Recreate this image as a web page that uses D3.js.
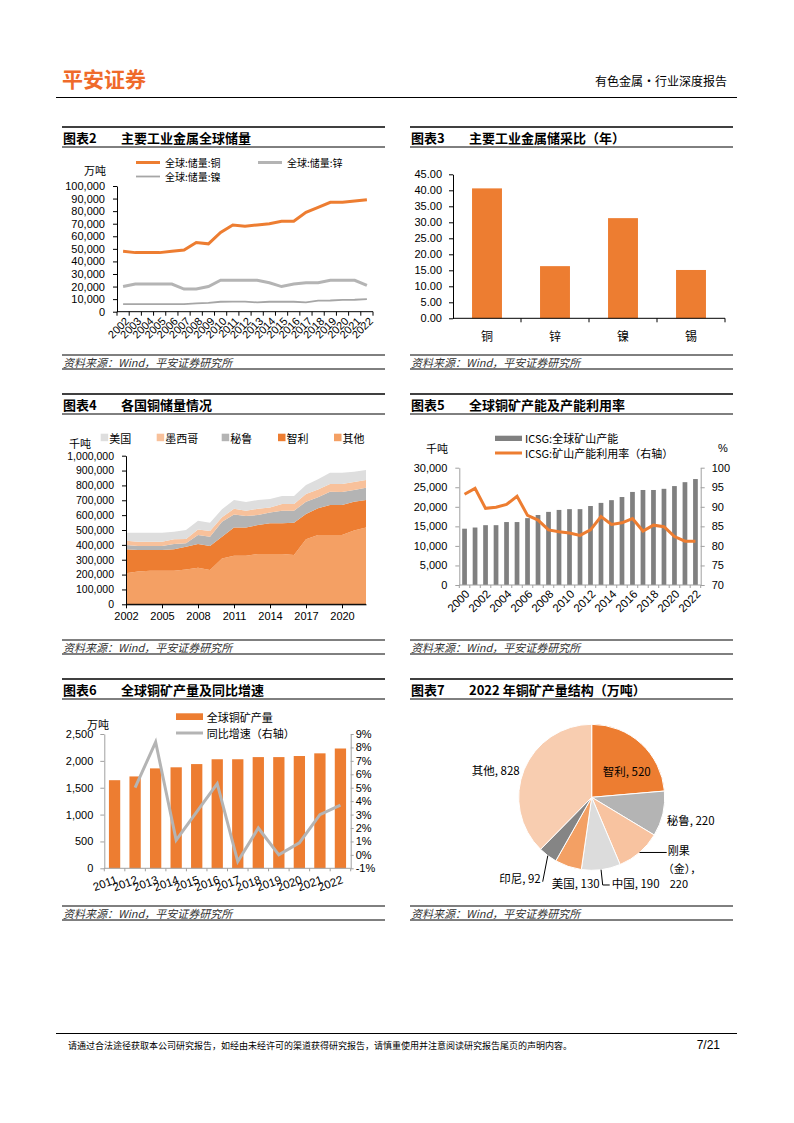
<!DOCTYPE html>
<html><head><meta charset="utf-8">
<script src="https://cdn.jsdelivr.net/npm/d3@7"></script>
<style>
body{margin:0;background:#fff;}
</style></head><body>
<svg id="page" width="794" height="1123" xmlns="http://www.w3.org/2000/svg"></svg>
<script>
// ---------------- DATA ----------------
// Chart 2: global reserves (万吨)
const years2 = ["2002","2003","2004","2005","2006","2007","2008","2009","2010","2011","2012","2013","2014","2015","2016","2017","2018","2019","2020","2021","2022"];
const copperRes = [48000,47000,47000,47000,48000,49000,55000,54000,63000,69000,68000,69000,70000,72000,72000,79000,83000,87000,87000,88000,89000];
const zincRes   = [20000,22000,22000,22000,22000,18000,18000,20000,25000,25000,25000,25000,23000,20000,22000,23000,23000,25000,25000,25000,21000];
const nickelRes = [6100,6100,6100,6100,6100,6100,6700,7100,7900,8000,8000,7400,7900,7900,7900,7400,8800,8900,9400,9500,10000];
const ticks2 = [0,10000,20000,30000,40000,50000,60000,70000,80000,90000,100000];
const legend2 = ["全球:储量:铜","全球:储量:锌","全球:储量:镍"];

// Chart 3: reserve/production ratio (年)
const metals3 = ["铜","锌","镍","锡"];
const ratio3 = [40.6,16.3,31.3,15.1];
const ticks3 = [0,5,10,15,20,25,30,35,40,45];

// Chart 4: copper reserves by country (千吨)
const years4 = ["2002","2003","2004","2005","2006","2007","2008","2009","2010","2011","2012","2013","2014","2015","2016","2017","2018","2019","2020","2021","2022"];
const other4  = [209000,220000,226000,226000,226000,235000,246000,231000,309000,327000,327000,339000,339000,339000,332000,437000,466000,466000,466000,496000,516000];
const chile4  = [161000,145000,139000,139000,144000,153000,160000,161000,146000,189000,189000,195000,206000,206000,217000,171000,180000,202000,202000,194000,186000];
const peru4   = [29000,27000,27000,27000,36000,22000,60000,63000,101000,89000,78000,67000,72000,85000,81000,82000,74000,90000,88000,79000,83000];
const mexico4 = [29000,29000,29000,29000,31000,29000,38000,38000,29000,38000,36000,42000,35000,45000,45000,52000,53000,51000,53000,54000,51000];
const us4     = [54000,61000,61000,61000,52000,61000,59000,56000,54000,59000,58000,59000,56000,54000,54000,61000,68000,77000,77000,69000,68000];
const keys4 = ["其他","智利","秘鲁","墨西哥","美国"];
const legend4 = ["美国","墨西哥","秘鲁","智利","其他"];
const ticks4 = [0,100000,200000,300000,400000,500000,600000,700000,800000,900000,1000000];
const xticks4 = ["2002","2005","2008","2011","2014","2017","2020"];

// Chart 5: ICSG capacity (千吨) and utilisation (%)
const years5 = ["2000","2001","2002","2003","2004","2005","2006","2007","2008","2009","2010","2011","2012","2013","2014","2015","2016","2017","2018","2019","2020","2021","2022"];
const capacity5 = [14400,14700,15300,15300,16100,16100,17100,17900,18700,19200,19400,19400,20200,21000,21700,22500,23800,24300,24300,24600,25300,26300,27100];
const util5 = [93.2,94.7,89.6,89.9,90.6,92.7,87.8,86.6,84.1,83.6,83.3,82.7,84.1,87.5,85.5,85.9,87.0,83.8,85.3,84.9,82.4,81.2,81.2];
const ticks5L = [0,5000,10000,15000,20000,25000,30000];
const ticks5R = [70,75,80,85,90,95,100];
const xticks5 = ["2000","2002","2004","2006","2008","2010","2012","2014","2016","2018","2020","2022"];
const legend5 = ["ICSG:全球矿山产能","ICSG:矿山产能利用率（右轴）"];

// Chart 6: global copper mine output (万吨) and yoy (%)
const years6 = ["2011","2012","2013","2014","2015","2016","2017","2018","2019","2020","2021","2022"];
const prod6 = [1640,1710,1860,1880,1940,2030,2030,2070,2070,2090,2140,2230];
const yoy6 = [null,5.0,8.4,1.1,3.2,5.3,-0.5,2.0,0.0,0.9,3.0,3.7];
const ticks6L = [0,500,1000,1500,2000,2500];
const ticks6R = [-1,0,1,2,3,4,5,6,7,8,9];
const legend6 = ["全球铜矿产量","同比增速（右轴）"];

// Chart 7: 2022 copper mine output structure (万吨)
const pieNames = ["智利","秘鲁","刚果（金）","中国","美国","印尼","其他"];
const pieValues = [520,220,220,190,130,92,828];

// ---------------- STYLE ----------------
const FONT = '"Liberation Sans","Noto Sans CJK SC",sans-serif';
const CJK = '"Noto Sans CJK SC","Liberation Sans",sans-serif';
const ORANGE = "#ED7D31";
const svg = d3.select("#page");

function axisStyle(g, col, fs){
  g.attr("font-family", FONT).attr("font-size", fs);
  g.select(".domain").attr("stroke", col);
  g.selectAll(".tick line").attr("stroke", col);
  g.selectAll(".tick text").attr("fill", "#000");
}
function txt(x, y, s, opt={}){
  return svg.append("text").attr("x", x).attr("y", y)
    .attr("font-family", opt.family || FONT)
    .attr("font-size", opt.size || 11)
    .attr("font-weight", opt.weight || "normal")
    .attr("font-style", opt.style || "normal")
    .attr("fill", opt.fill || "#000")
    .attr("text-anchor", opt.anchor || "start")
    .attr("dominant-baseline", "central")
    .text(s);
}
function hline(x0, x1, y, w=1, col="#000"){
  svg.append("line").attr("x1", x0).attr("x2", x1).attr("y1", y).attr("y2", y)
    .attr("stroke", col).attr("stroke-width", w);
}
function titleBlock(x0, x1, yT, yB, num, title){
  hline(x0, x1, yT, 1.3);
  hline(x0, x1, yB, 1);
  const ym = (yT + yB) / 2 + 0.5;
  txt(x0 + 1, ym, "图表" + num, {family: CJK, size: 13, weight: "bold"});
  txt(x0 + 59, ym, title, {family: CJK, size: 13, weight: "bold"});
}
function sourceBlock(x0, x1, yT, yB){
  hline(x0, x1, yT, 1);
  hline(x0, x1, yB, 1);
  txt(x0 + 1, (yT + yB) / 2, "资料来源：Wind，平安证券研究所", {size: 11, style: "italic", fill: "#333", family: CJK});
}

// ---------------- HEADER / FOOTER ----------------
txt(62, 78, "平安证券", {family: CJK, size: 21, weight: "bold", fill: "#EF6A2A"});
txt(727, 80, "有色金属·行业深度报告", {family: CJK, size: 12, anchor: "end"});
hline(56, 737, 97.5, 1);
hline(56, 737, 1033.5, 1);
txt(68, 1045, "请通过合法途径获取本公司研究报告，如经由未经许可的渠道获得研究报告，请慎重使用并注意阅读研究报告尾页的声明内容。", {family: CJK, size: 9});
txt(720, 1045, "7/21", {size: 12, anchor: "end"});

// Title & source blocks
const C1 = [62, 385], C2 = [410, 733];
titleBlock(C1[0], C1[1], 127, 147, "2", "主要工业金属全球储量");
titleBlock(C2[0], C2[1], 127, 147, "3", "主要工业金属储采比（年）");
sourceBlock(C1[0], C1[1], 355, 369);
sourceBlock(C2[0], C2[1], 355, 369);
titleBlock(C1[0], C1[1], 394, 414, "4", "各国铜储量情况");
titleBlock(C2[0], C2[1], 394, 414, "5", "全球铜矿产能及产能利用率");
sourceBlock(C1[0], C1[1], 640, 654);
sourceBlock(C2[0], C2[1], 640, 654);
titleBlock(C1[0], C1[1], 679, 699, "6", "全球铜矿产量及同比增速");
titleBlock(C2[0], C2[1], 679, 699, "7", "2022 年铜矿产量结构（万吨）");
sourceBlock(C1[0], C1[1], 906, 920);
sourceBlock(C2[0], C2[1], 906, 920);

// ---------------- CHART 2 ----------------
(function(){
  const x = d3.scaleBand().domain(years2).range([117, 373]);
  const y = d3.scaleLinear().domain([0, 100000]).range([311.7, 186]);
  svg.append("g").attr("transform", "translate(117,0)")
    .call(d3.axisLeft(y).tickValues(ticks2).tickFormat(d3.format(",")).tickSize(4).tickPadding(8).tickSizeOuter(0))
    .call(axisStyle, "#000", 11);
  const bx = svg.append("g").attr("transform", "translate(0,311.7)");
  bx.append("line").attr("x1", 117).attr("x2", 373).attr("stroke", "#000");
  bx.selectAll(".tk").data(years2.map(d => x(d)).concat([373])).join("line")
    .attr("x1", d => d).attr("x2", d => d).attr("y1", 0).attr("y2", 4).attr("stroke", "#000");
  years2.forEach(d => {
    svg.append("text").attr("transform", `translate(${x(d) + x.bandwidth() / 2 + 4},${319}) rotate(-45)`)
      .attr("text-anchor", "end").attr("dominant-baseline", "central")
      .attr("font-family", FONT).attr("font-size", 11).text(d);
  });
  const line = arr => d3.line().x((d, i) => x(years2[i]) + x.bandwidth() / 2).y(d => y(d))(arr);
  svg.append("path").attr("d", line(nickelRes)).attr("fill", "none").attr("stroke", "#A6A6A6").attr("stroke-width", 1.8);
  svg.append("path").attr("d", line(zincRes)).attr("fill", "none").attr("stroke", "#B4B4B4").attr("stroke-width", 3);
  svg.append("path").attr("d", line(copperRes)).attr("fill", "none").attr("stroke", ORANGE).attr("stroke-width", 3);
  // legend
  const lg = [[136, 162.5, ORANGE, 3], [258, 162.5, "#B4B4B4", 3], [136, 176.5, "#A6A6A6", 1.8]];
  lg.forEach((l, i) => {
    svg.append("line").attr("x1", l[0]).attr("x2", l[0] + 24).attr("y1", l[1]).attr("y2", l[1]).attr("stroke", l[2]).attr("stroke-width", l[3]);
    txt(l[0] + 29, l[1], legend2[i], {family: CJK, size: 10});
  });
  txt(95, 170, "万吨", {family: CJK, size: 11, anchor: "middle"});
})();

// ---------------- CHART 3 ----------------
(function(){
  const x = d3.scaleBand().domain(metals3).range([453, 725]).paddingInner(0.56).paddingOuter(0.28);
  const y = d3.scaleLinear().domain([0, 45]).range([318.3, 174.3]);
  svg.append("g").attr("transform", "translate(453,0)")
    .call(d3.axisLeft(y).tickValues(ticks3).tickFormat(d3.format(".2f")).tickSize(4).tickPadding(7).tickSizeOuter(0))
    .call(axisStyle, "#000", 11);
  svg.selectAll(".bar3").data(metals3).join("rect")
    .attr("x", d => x(d)).attr("width", x.bandwidth())
    .attr("y", (d, i) => y(ratio3[i])).attr("height", (d, i) => y(0) - y(ratio3[i]))
    .attr("fill", ORANGE);
  const step = x.step();
  const bx = svg.append("g").attr("transform", "translate(0,318.3)");
  bx.append("line").attr("x1", 453).attr("x2", 725).attr("stroke", "#000");
  bx.selectAll(".tk").data(metals3.map((d, i) => 453 + step * (i + 1))).join("line")
    .attr("x1", d => d).attr("x2", d => d).attr("y1", 0).attr("y2", 4).attr("stroke", "#000");
  metals3.forEach(d => txt(x(d) + x.bandwidth() / 2, 335, d, {family: CJK, size: 12, anchor: "middle"}));
})();

// ---------------- CHART 4 ----------------
(function(){
  const x = d3.scalePoint().domain(years4).range([126, 366]);
  const y = d3.scaleLinear().domain([0, 1000000]).range([604.3, 455.7]);
  const colors = {"其他": "#F4A064", "智利": ORANGE, "秘鲁": "#B4B4B4", "墨西哥": "#F8C19B", "美国": "#DEDEDE"};
  const rows = years4.map((yr, i) => ({year: yr, "其他": other4[i], "智利": chile4[i], "秘鲁": peru4[i], "墨西哥": mexico4[i], "美国": us4[i]}));
  const series = d3.stack().keys(keys4)(rows);
  const area = d3.area().x(d => x(d.data.year)).y0(d => y(d[0])).y1(d => y(d[1]));
  svg.selectAll(".ar4").data(series).join("path").attr("d", area).attr("fill", d => colors[d.key]);
  svg.append("g").attr("transform", "translate(126,0)")
    .call(d3.axisLeft(y).tickValues(ticks4).tickFormat(d3.format(",")).tickSize(4).tickPadding(8).tickSizeOuter(0))
    .call(axisStyle, "#000", 10.5);
  svg.append("g").attr("transform", "translate(0,604.3)")
    .call(d3.axisBottom(x).tickValues(xticks4).tickSize(4).tickPadding(4).tickSizeOuter(0))
    .call(axisStyle, "#000", 11);
  svg.append("line").attr("x1", 126).attr("x2", 366).attr("y1", 604.3).attr("y2", 604.3).attr("stroke", "#000");
  const lx = [100.7, 156.7, 221.7, 278, 334];
  legend4.forEach((k, i) => {
    svg.append("rect").attr("x", lx[i]).attr("y", 433.7).attr("width", 7.5).attr("height", 7.5).attr("fill", colors[k]);
    txt(lx[i] + 8.5, 437.7, k, {family: CJK, size: 11});
  });
  txt(80, 443, "千吨", {family: CJK, size: 11, anchor: "middle"});
})();

// ---------------- CHART 5 ----------------
(function(){
  const x = d3.scaleBand().domain(years5).range([459.3, 700.7]).paddingInner(0.55).paddingOuter(0.275);
  const yL = d3.scaleLinear().domain([0, 30000]).range([585, 467.7]);
  const yR = d3.scaleLinear().domain([70, 100]).range([585, 467.7]);
  const AX = "#A0A0A0";
  svg.selectAll(".bar5").data(years5).join("rect")
    .attr("x", d => x(d)).attr("width", x.bandwidth())
    .attr("y", (d, i) => yL(capacity5[i])).attr("height", (d, i) => yL(0) - yL(capacity5[i]))
    .attr("fill", "#808080");
  svg.append("g").attr("transform", "translate(459.3,0)")
    .call(d3.axisLeft(yL).tickValues(ticks5L).tickFormat(d3.format(",")).tickSize(4).tickPadding(8).tickSizeOuter(0))
    .call(axisStyle, AX, 11);
  svg.append("g").attr("transform", "translate(700.7,0)")
    .call(d3.axisRight(yR).tickValues(ticks5R).tickSize(4).tickPadding(7).tickSizeOuter(0))
    .call(axisStyle, AX, 11);
  const bx = svg.append("g").attr("transform", "translate(0,585)");
  bx.append("line").attr("x1", 459.3).attr("x2", 700.7).attr("stroke", AX);
  bx.selectAll(".tk").data(years5.map(d => x(d) - x.step() * x.paddingInner() / 2).concat([700.7])).join("line")
    .attr("x1", d => d).attr("x2", d => d).attr("y1", 0).attr("y2", 3).attr("stroke", AX);
  xticks5.forEach(d => {
    svg.append("text").attr("transform", `translate(${x(d) + x.bandwidth() / 2 + 3},${592}) rotate(-45)`)
      .attr("text-anchor", "end").attr("dominant-baseline", "central")
      .attr("font-family", FONT).attr("font-size", 11.5).text(d);
  });
  const line = d3.line().x((d, i) => x(years5[i]) + x.bandwidth() / 2).y(d => yR(d));
  svg.append("path").attr("d", line(util5)).attr("fill", "none").attr("stroke", ORANGE).attr("stroke-width", 3);
  svg.append("rect").attr("x", 495).attr("y", 435.7).attr("width", 27).attr("height", 5.3).attr("fill", "#808080");
  txt(525, 438, legend5[0], {family: CJK, size: 11});
  svg.append("line").attr("x1", 495).attr("x2", 522).attr("y1", 453).attr("y2", 453).attr("stroke", ORANGE).attr("stroke-width", 3);
  txt(525, 453, legend5[1], {family: CJK, size: 11});
  txt(437, 448, "千吨", {family: CJK, size: 11, anchor: "middle"});
  txt(723, 448, "%", {size: 11, anchor: "middle"});
})();

// ---------------- CHART 6 ----------------
(function(){
  const x = d3.scaleBand().domain(years6).range([104.3, 350.7]).paddingInner(0.45).paddingOuter(0.225);
  const yL = d3.scaleLinear().domain([0, 2500]).range([868.3, 734]);
  const yR = d3.scaleLinear().domain([-1, 9]).range([868.3, 734]);
  const AX = "#A0A0A0";
  svg.selectAll(".bar6").data(years6).join("rect")
    .attr("x", d => x(d)).attr("width", x.bandwidth())
    .attr("y", (d, i) => yL(prod6[i])).attr("height", (d, i) => yL(0) - yL(prod6[i]))
    .attr("fill", ORANGE);
  svg.append("g").attr("transform", "translate(104.3,0)")
    .call(d3.axisLeft(yL).tickValues(ticks6L).tickFormat(d3.format(",")).tickSize(4).tickPadding(7).tickSizeOuter(0))
    .call(axisStyle, AX, 11);
  svg.append("g").attr("transform", "translate(350.7,0)")
    .call(d3.axisRight(yR).tickValues(ticks6R).tickFormat(d => d + "%").tickSize(3).tickPadding(2).tickSizeOuter(0))
    .call(axisStyle, AX, 11);
  const bx = svg.append("g").attr("transform", "translate(0,868.3)");
  bx.append("line").attr("x1", 104.3).attr("x2", 350.7).attr("stroke", AX);
  bx.selectAll(".tk").data(years6.map(d => x(d) - x.step() * x.paddingInner() / 2).concat([350.7])).join("line")
    .attr("x1", d => d).attr("x2", d => d).attr("y1", 0).attr("y2", 3).attr("stroke", AX);
  years6.forEach(d => {
    svg.append("text").attr("transform", `translate(${x(d) + x.bandwidth() / 2 + 2},${879}) rotate(-20)`)
      .attr("text-anchor", "end").attr("dominant-baseline", "central")
      .attr("font-family", FONT).attr("font-size", 11.5).text(d);
  });
  const pts = years6.map((d, i) => [x(d) + x.bandwidth() / 2, yoy6[i]]).filter(p => p[1] !== null);
  svg.append("path").attr("d", d3.line().x(p => p[0]).y(p => yR(p[1]))(pts))
    .attr("fill", "none").attr("stroke", "#B4B4B4").attr("stroke-width", 3);
  svg.append("rect").attr("x", 176).attr("y", 713.3).attr("width", 27).attr("height", 6.7).attr("fill", ORANGE);
  txt(206.7, 716.7, legend6[0], {family: CJK, size: 11});
  svg.append("line").attr("x1", 176).attr("x2", 203).attr("y1", 733).attr("y2", 733).attr("stroke", "#B4B4B4").attr("stroke-width", 3);
  txt(206.7, 733, legend6[1], {family: CJK, size: 11});
  txt(98, 724, "万吨", {family: CJK, size: 11, anchor: "middle"});
})();

// ---------------- CHART 7 ----------------
(function(){
  const cx = 591.7, cy = 797.3, R = 73;
  const colors = ["#ED7D31", "#B4B4B4", "#F8C3A0", "#DCDCDC", "#F3A064", "#858585", "#F8CDB0"];
  const arcs = d3.pie().sort(null).value(d => d)(pieValues);
  const arc = d3.arc().innerRadius(0).outerRadius(R);
  const g = svg.append("g").attr("transform", `translate(${cx},${cy})`);
  g.selectAll("path").data(arcs).join("path").attr("d", arc)
    .attr("fill", (d, i) => colors[i]).attr("stroke", "#fff").attr("stroke-width", 1);
  const edge = d3.arc().innerRadius(R).outerRadius(R);
  const P = i => edge.centroid(arcs[i]);
  const lbl = (i) => pieNames[i] + ", " + pieValues[i];
  const o = {family: CJK, size: 11.5};
  txt(cx + 35, cy - 26, lbl(0), Object.assign({anchor: "middle"}, o));
  txt(cx + 75, cy + 23, lbl(1), o);
  // 刚果（金）
  const p2 = P(2);
  g.append("polyline").attr("points", [[p2[0], p2[1]], [75, p2[1]]].map(p => p.join(",")).join(" "))
    .attr("fill", "none").attr("stroke", "#000").attr("stroke-width", 1);
  const o2 = {family: CJK, size: 11};
  txt(cx + 76, cy + 53, "刚果", o2);
  txt(cx + 71, cy + 71, "（金），", o2);
  txt(cx + 78, cy + 86, String(pieValues[2]), o2);
  // 中国
  const p3 = P(3);
  g.append("polyline").attr("points", [[p3[0], p3[1]], [11, 87.7], [18, 87.7]].map(p => p.join(",")).join(" "))
    .attr("fill", "none").attr("stroke", "#000").attr("stroke-width", 1);
  txt(cx + 20, cy + 85.4, lbl(3), o);
  // 美国
  txt(cx - 16, cy + 85.4, lbl(4), Object.assign({anchor: "middle"}, o));
  // 印尼
  const p5 = P(5);
  g.append("polyline").attr("points", [[p5[0], p5[1]], [-49, 84.4]].map(p => p.join(",")).join(" "))
    .attr("fill", "none").attr("stroke", "#000").attr("stroke-width", 1);
  txt(cx - 51, cy + 80.7, lbl(5), Object.assign({anchor: "end"}, o));
  // 其他
  txt(cx - 72, cy - 27, lbl(6), Object.assign({anchor: "end"}, o));
})();
</script>
</body></html>
